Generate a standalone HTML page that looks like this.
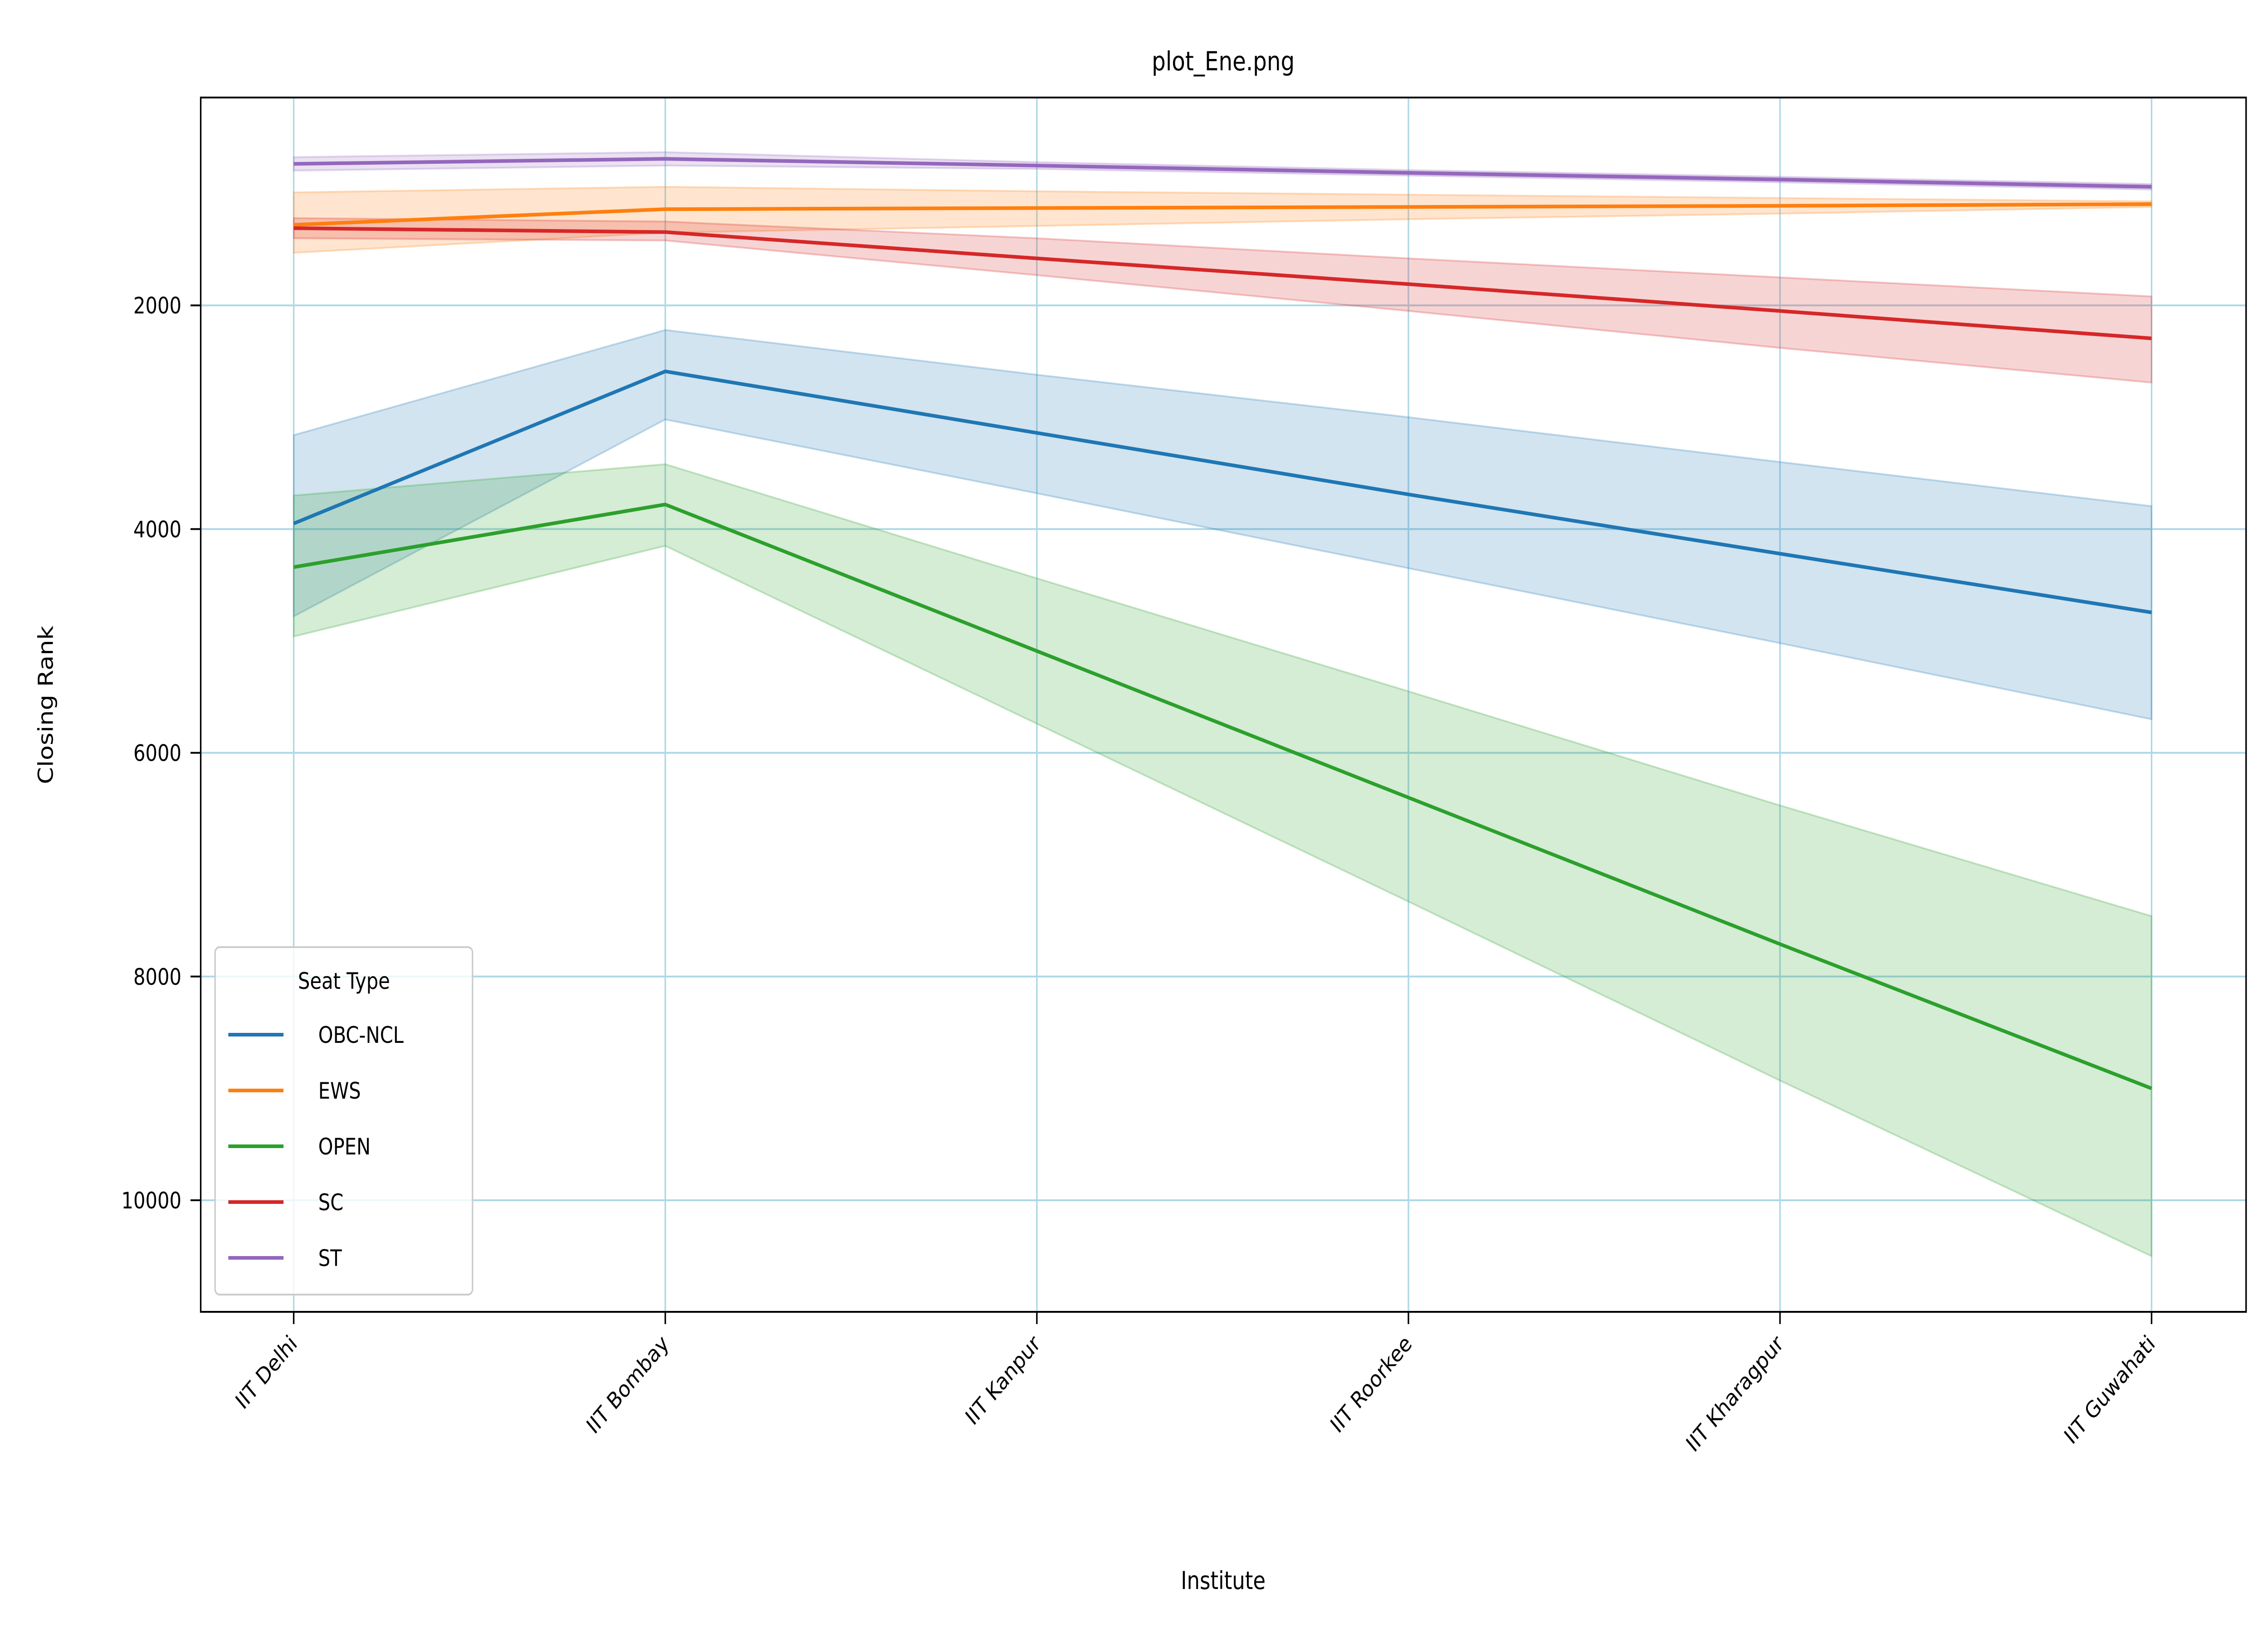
<!DOCTYPE html>
<html><head><meta charset="utf-8"><style>
html,body{margin:0;padding:0;background:#fff;width:100%;height:100%;overflow:hidden;}
svg{display:block;width:100vw;height:100vh;font-family:"DejaVu Sans","Liberation Sans",sans-serif;}
</style></head><body>
<svg id="chart" viewBox="0 0 6000 3600" preserveAspectRatio="none" xmlns="http://www.w3.org/2000/svg">
<rect width="6000" height="3600" fill="#fff"/>
<text x="3236" y="155" font-size="58" text-anchor="middle">plot_Ene.png</text>
<g id="grid"></g>
<g id="bands"></g>
<g id="lines"></g>
<rect x="531" y="215" width="5411" height="2677" fill="none" stroke="#000" stroke-width="4"/>
<g id="axes"></g>
<text transform="translate(140,1554) rotate(-90)" font-size="54" text-anchor="middle">Closing Rank</text>
<text x="3236" y="3503" font-size="54" text-anchor="middle">Institute</text>
<g id="legend"></g>
</svg>
<script>
const categories = ["IIT Delhi","IIT Bombay","IIT Kanpur","IIT Roorkee","IIT Kharagpur","IIT Guwahati"];
const seriesNames = ["OBC-NCL","EWS","OPEN","SC","ST"];
const colors = ["#1f77b4","#ff7f0e","#2ca02c","#d62728","#9467bd"];
const obcMean = [3950,2590,3140,3690,4220,4745];
const obcLo = [3160,2220,2620,3000,3400,3795];
const obcHi = [4780,3020,3680,4350,5020,5700];
const ewsMean = [1280,1140,1130,1120,1110,1095];
const ewsLo = [990,940,980,1010,1040,1070];
const ewsHi = [1530,1350,1290,1230,1180,1120];
const openMean = [4340,3780,5090,6400,7710,9000];
const openLo = [3700,3420,4440,5450,6470,7460];
const openHi = [4960,4150,5740,7330,8930,10500];
const scMean = [1310,1345,1580,1810,2050,2295];
const scLo = [1220,1250,1400,1580,1750,1920];
const scHi = [1400,1420,1730,2050,2380,2690];
const stMean = [735,690,750,815,875,940];
const stLo = [675,630,720,790,850,915];
const stHi = [795,750,780,840,900,965];
const yTicks = [2000,4000,6000,8000,10000];

const means=[obcMean,ewsMean,openMean,scMean,stMean];
const los=[obcLo,ewsLo,openLo,scLo,stLo];
const his=[obcHi,ewsHi,openHi,scHi,stHi];
const NS="http://www.w3.org/2000/svg";
const X0=777,X1=5692;
function xs(i){return X0+(X1-X0)*i/(categories.length-1);}
function ys(v){return 180+v*0.2466;}
function mk(tag,attrs,parent){const e=document.createElementNS(NS,tag);for(const k in attrs)e.setAttribute(k,attrs[k]);parent.appendChild(e);return e;}
const grid=document.getElementById('grid'),axes=document.getElementById('axes'),bands=document.getElementById('bands'),lines=document.getElementById('lines'),legend=document.getElementById('legend');
categories.forEach((c,i)=>{
  const g=mk('line',{x1:xs(i),x2:xs(i),y1:215,y2:2892,stroke:'#add8e6','stroke-width':4},grid);
  
  
  const t=mk('line',{x1:xs(i),x2:xs(i),y1:2892,y2:2919,stroke:'#000','stroke-width':4},axes);
  
  
  const l=mk('text',{transform:`translate(${xs(i)+12},${2965}) rotate(-45)`,'font-size':50,'text-anchor':'end'},axes);
  l.textContent=c;
  
  
});
yTicks.forEach(v=>{
  const g=mk('line',{x1:531,x2:5942,y1:ys(v),y2:ys(v),stroke:'#add8e6','stroke-width':4},grid);
  
  
  const t=mk('line',{x1:504,x2:531,y1:ys(v),y2:ys(v),stroke:'#000','stroke-width':4},axes);
  
  
  const l=mk('text',{x:480,y:ys(v)+18,'font-size':50,'text-anchor':'end'},axes);
  l.textContent=v;
  
  
});
seriesNames.forEach((n,s)=>{
  let pts=means[s].map((_,i)=>xs(i)+','+ys(los[s][i]));
  for(let i=categories.length-1;i>=0;i--)pts.push(xs(i)+','+ys(his[s][i]));
  const b=mk('polygon',{points:pts.join(' '),fill:colors[s],'fill-opacity':0.2,stroke:colors[s],'stroke-opacity':0.25,'stroke-width':4},bands);
  
  
});
seriesNames.forEach((n,s)=>{
  const p=mk('polyline',{points:means[s].map((v,i)=>xs(i)+','+ys(v)).join(' '),fill:'none',stroke:colors[s],'stroke-width':8,'stroke-linejoin':'round'},lines);
  
  
});
const lb=mk('rect',{x:569,y:2088,width:681,height:766,rx:12,fill:'#fff','fill-opacity':0.8,stroke:'#ccc','stroke-width':4},legend);


const lt=mk('text',{x:910,y:2180,'font-size':50,'text-anchor':'middle'},legend);
lt.textContent='Seat Type';


seriesNames.forEach((n,s)=>{
  const y=2281+s*123;
  const ln=mk('line',{x1:604,x2:750,y1:y,y2:y,stroke:colors[s],'stroke-width':8},legend);
  
  
  const t=mk('text',{x:842,y:y+18,'font-size':50},legend);
  t.textContent=n;
  
  
});
</script>
</body></html>
